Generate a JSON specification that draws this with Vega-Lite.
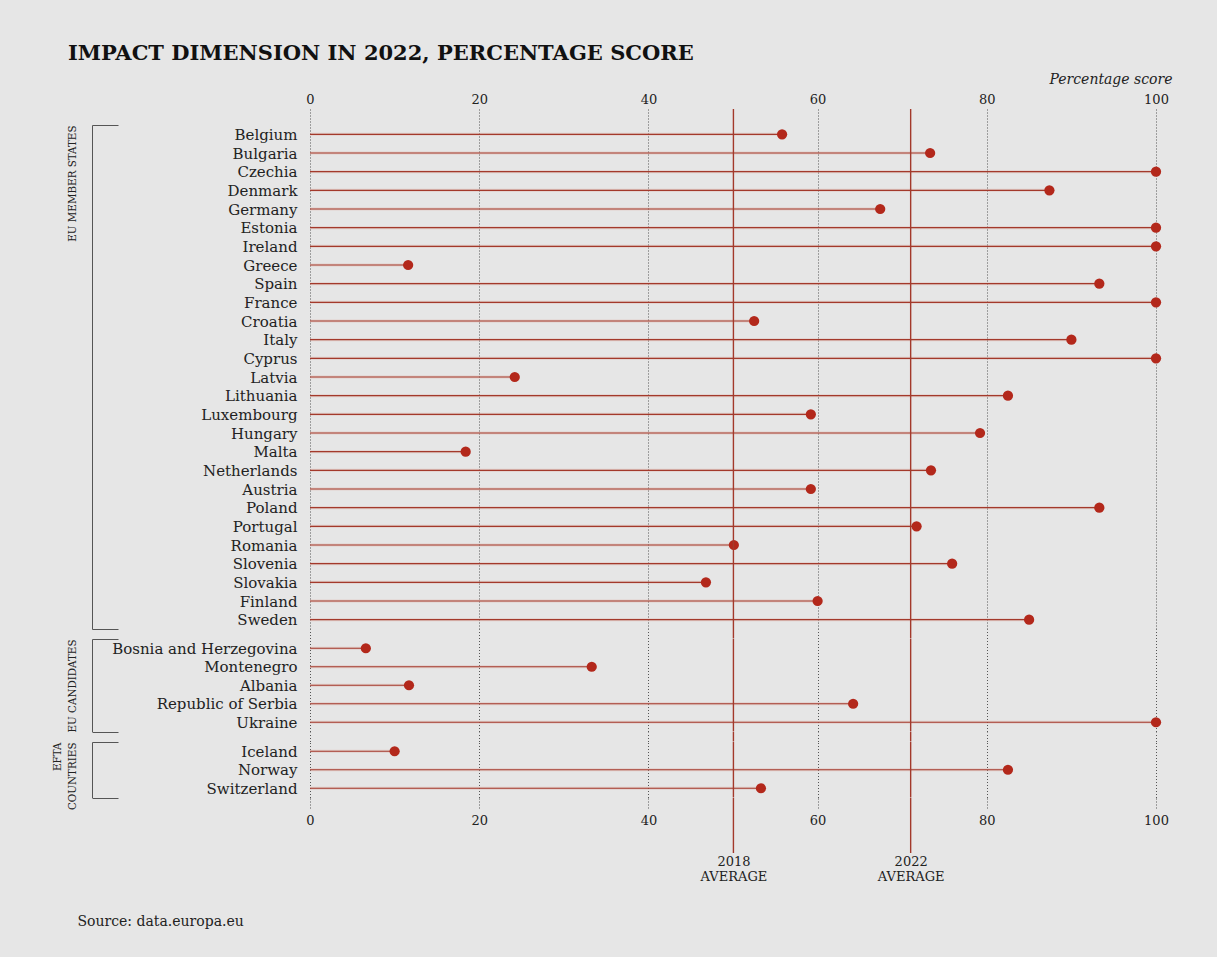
{
  "$schema": "https://vega.github.io/schema/vega-lite/v6.json",
  "background": "#e6e6e6",
  "padding": {"left": 51, "top": 43, "right": 45, "bottom": 28},
  "title": {"text": "IMPACT DIMENSION IN 2022, PERCENTAGE SCORE", "anchor": "start", "frame": "bounds", "font": "DejaVu Serif", "fontSize": 21, "fontWeight": "bold", "color": "#111", "dx": 17, "offset": 8},
  "config": {"view": {"stroke": null}},
  "datasets": {
    "countries": [
      {"group": "EU member states", "country": "Belgium", "score": 55.8},
      {"group": "EU member states", "country": "Bulgaria", "score": 73.3},
      {"group": "EU member states", "country": "Czechia", "score": 100},
      {"group": "EU member states", "country": "Denmark", "score": 87.4},
      {"group": "EU member states", "country": "Germany", "score": 67.4},
      {"group": "EU member states", "country": "Estonia", "score": 100},
      {"group": "EU member states", "country": "Ireland", "score": 100},
      {"group": "EU member states", "country": "Greece", "score": 11.6},
      {"group": "EU member states", "country": "Spain", "score": 93.3},
      {"group": "EU member states", "country": "France", "score": 100},
      {"group": "EU member states", "country": "Croatia", "score": 52.5},
      {"group": "EU member states", "country": "Italy", "score": 90.0},
      {"group": "EU member states", "country": "Cyprus", "score": 100},
      {"group": "EU member states", "country": "Latvia", "score": 24.2},
      {"group": "EU member states", "country": "Lithuania", "score": 82.5},
      {"group": "EU member states", "country": "Luxembourg", "score": 59.2},
      {"group": "EU member states", "country": "Hungary", "score": 79.2},
      {"group": "EU member states", "country": "Malta", "score": 18.4},
      {"group": "EU member states", "country": "Netherlands", "score": 73.4},
      {"group": "EU member states", "country": "Austria", "score": 59.2},
      {"group": "EU member states", "country": "Poland", "score": 93.3},
      {"group": "EU member states", "country": "Portugal", "score": 71.7},
      {"group": "EU member states", "country": "Romania", "score": 50.1},
      {"group": "EU member states", "country": "Slovenia", "score": 75.9},
      {"group": "EU member states", "country": "Slovakia", "score": 46.8},
      {"group": "EU member states", "country": "Finland", "score": 60.0},
      {"group": "EU member states", "country": "Sweden", "score": 85.0},
      {"group": "EU candidates", "country": "Bosnia and Herzegovina", "score": 6.6},
      {"group": "EU candidates", "country": "Montenegro", "score": 33.3},
      {"group": "EU candidates", "country": "Albania", "score": 11.7},
      {"group": "EU candidates", "country": "Republic of Serbia", "score": 64.2},
      {"group": "EU candidates", "country": "Ukraine", "score": 100},
      {"group": "EFTA countries", "country": "Iceland", "score": 10.0},
      {"group": "EFTA countries", "country": "Norway", "score": 82.5},
      {"group": "EFTA countries", "country": "Switzerland", "score": 53.3}
    ],
    "averages": [
      {"label": "2018 AVERAGE", "avg": 50.05},
      {"label": "2022 AVERAGE", "avg": 71.0}
    ]
  },
  "spacing": 0,
  "bounds": "flush",
  "vconcat": [
    {
      "width": 846, "height": 16,
      "data": {"name": "averages"},
      "mark": {"type": "rule", "color": "#a3392b", "strokeWidth": 1.4},
      "encoding": {
        "x": {"field": "avg", "type": "quantitative", "scale": {"domain": [0, 100], "nice": false, "zero": false},
          "axis": {"orient": "top", "values": [0, 20, 40, 60, 80, 100], "labels": true, "labelFlush": false, "ticks": false, "domain": false, "grid": true, "gridDash": [1, 2], "gridColor": "#555", "gridWidth": 1, "labelPadding": 3, "labelFont": "DejaVu Serif", "labelFontSize": 13, "labelColor": "#222",
            "title": "Percentage score", "titleFont": "DejaVu Serif", "titleFontStyle": "italic", "titleFontWeight": "normal", "titleFontSize": 14, "titleColor": "#222", "titleAlign": "right", "titleAnchor": "end", "titleX": 862, "titleY": -30, "titleBaseline": "middle"}}
      }
    },
    {
      "width": 846, "height": 504,
      "data": {"name": "countries"},
      "transform": [{"filter": "datum.group === 'EU member states'"}],
      "layer": [
        {
          "mark": {"type": "rule", "color": "#dba79f", "strokeWidth": 3, "opacity": 0.35},
          "encoding": {
            "x": {"field": "score", "type": "quantitative", "title": null, "scale": {"domain": [0, 100], "nice": false, "zero": false},
              "axis": {"values": [0, 20, 40, 60, 80, 100], "labels": false, "ticks": false, "domain": false, "grid": true, "gridDash": [1, 2], "gridColor": "#555", "gridWidth": 1, "title": null}},
            "x2": {"datum": 0},
            "y": {"field": "country", "type": "nominal", "sort": null, "scale": {"type": "band", "paddingInner": 0, "paddingOuter": 0}}
          }
        },
        {
          "mark": {"type": "rule", "color": "#a3392b", "strokeWidth": 1.2},
          "encoding": {
            "x": {"field": "score", "type": "quantitative"},
            "x2": {"datum": 0},
            "y": {"field": "country", "type": "nominal", "sort": null, "scale": {"type": "band", "paddingInner": 0, "paddingOuter": 0},
              "axis": {"orient": "left", "offset": 218, "domain": true, "domainColor": "#555", "domainWidth": 1, "ticks": true, "tickBand": "extent", "tickSize": -26, "tickColor": "#555", "tickWidth": 1,
                "tickOpacity": {"condition": {"test": "datum.index === 1 || datum.index < 0", "value": 1}, "value": 0},
                "grid": false, "labels": true, "labelLimit": 300, "labelPadding": -179, "labelAlign": "right", "labelFont": "DejaVu Serif", "labelFontSize": 15, "labelColor": "#222",
                "title": "EU MEMBER STATES", "titleFont": "DejaVu Serif Condensed", "titleFontSize": 11.5, "titleFontWeight": "normal", "titleColor": "#222", "titleAngle": 270, "titleAlign": "right", "titleBaseline": "middle", "titleX": -20, "titleY": 0}}
          }
        },
        {
          "mark": {"type": "point", "filled": true, "color": "#b3281b", "size": 105, "opacity": 1},
          "encoding": {
            "x": {"field": "score", "type": "quantitative"},
            "y": {"field": "country", "type": "nominal", "sort": null, "scale": {"type": "band", "paddingInner": 0, "paddingOuter": 0}}
          }
        },
        {
          "data": {"name": "averages"},
          "mark": {"type": "rule", "color": "#a3392b", "strokeWidth": 1.4},
          "encoding": {"x": {"field": "avg", "type": "quantitative"}}
        }
      ]
    },
    {
      "width": 846, "height": 9.5,
      "data": {"name": "averages"},
      "mark": {"type": "rule", "color": "#a3392b", "strokeWidth": 1.4},
      "encoding": {
        "x": {"field": "avg", "type": "quantitative", "scale": {"domain": [0, 100], "nice": false, "zero": false},
          "axis": {"values": [0, 20, 40, 60, 80, 100], "labels": false, "ticks": false, "domain": false, "grid": true, "gridDash": [1, 2], "gridColor": "#555", "gridWidth": 1, "title": null}}
      }
    },
    {
      "width": 846, "height": 92.5,
      "data": {"name": "countries"},
      "transform": [{"filter": "datum.group === 'EU candidates'"}],
      "layer": [
        {
          "mark": {"type": "rule", "color": "#dba79f", "strokeWidth": 3, "opacity": 0.35},
          "encoding": {
            "x": {"field": "score", "type": "quantitative", "title": null, "scale": {"domain": [0, 100], "nice": false, "zero": false},
              "axis": {"values": [0, 20, 40, 60, 80, 100], "labels": false, "ticks": false, "domain": false, "grid": true, "gridDash": [1, 2], "gridColor": "#555", "gridWidth": 1, "title": null}},
            "x2": {"datum": 0},
            "y": {"field": "country", "type": "nominal", "sort": null, "scale": {"type": "band", "paddingInner": 0, "paddingOuter": 0}}
          }
        },
        {
          "mark": {"type": "rule", "color": "#a3392b", "strokeWidth": 1.2},
          "encoding": {
            "x": {"field": "score", "type": "quantitative"},
            "x2": {"datum": 0},
            "y": {"field": "country", "type": "nominal", "sort": null, "scale": {"type": "band", "paddingInner": 0, "paddingOuter": 0},
              "axis": {"orient": "left", "offset": 218, "domain": true, "domainColor": "#555", "domainWidth": 1, "ticks": true, "tickBand": "extent", "tickSize": -26, "tickColor": "#555", "tickWidth": 1,
                "tickOpacity": {"condition": {"test": "datum.index === 1 || datum.index < 0", "value": 1}, "value": 0},
                "grid": false, "labels": true, "labelLimit": 300, "labelPadding": -179, "labelAlign": "right", "labelFont": "DejaVu Serif", "labelFontSize": 15, "labelColor": "#222",
                "title": "EU CANDIDATES", "titleFont": "DejaVu Serif Condensed", "titleFontSize": 11.5, "titleFontWeight": "normal", "titleColor": "#222", "titleAngle": 270, "titleAlign": "right", "titleBaseline": "middle", "titleX": -20, "titleY": 0}}
          }
        },
        {
          "mark": {"type": "point", "filled": true, "color": "#b3281b", "size": 105, "opacity": 1},
          "encoding": {
            "x": {"field": "score", "type": "quantitative"},
            "y": {"field": "country", "type": "nominal", "sort": null, "scale": {"type": "band", "paddingInner": 0, "paddingOuter": 0}}
          }
        },
        {
          "data": {"name": "averages"},
          "mark": {"type": "rule", "color": "#a3392b", "strokeWidth": 1.4},
          "encoding": {"x": {"field": "avg", "type": "quantitative"}}
        }
      ]
    },
    {
      "width": 846, "height": 9.5,
      "data": {"name": "averages"},
      "mark": {"type": "rule", "color": "#a3392b", "strokeWidth": 1.4},
      "encoding": {
        "x": {"field": "avg", "type": "quantitative", "scale": {"domain": [0, 100], "nice": false, "zero": false},
          "axis": {"values": [0, 20, 40, 60, 80, 100], "labels": false, "ticks": false, "domain": false, "grid": true, "gridDash": [1, 2], "gridColor": "#555", "gridWidth": 1, "title": null}}
      }
    },
    {
      "width": 846, "height": 55.5,
      "data": {"name": "countries"},
      "transform": [{"filter": "datum.group === 'EFTA countries'"}],
      "layer": [
        {
          "mark": {"type": "rule", "color": "#dba79f", "strokeWidth": 3, "opacity": 0.35},
          "encoding": {
            "x": {"field": "score", "type": "quantitative", "title": null, "scale": {"domain": [0, 100], "nice": false, "zero": false},
              "axis": {"values": [0, 20, 40, 60, 80, 100], "labels": false, "ticks": false, "domain": false, "grid": true, "gridDash": [1, 2], "gridColor": "#555", "gridWidth": 1, "title": null}},
            "x2": {"datum": 0},
            "y": {"field": "country", "type": "nominal", "sort": null, "scale": {"type": "band", "paddingInner": 0, "paddingOuter": 0}}
          }
        },
        {
          "mark": {"type": "rule", "color": "#a3392b", "strokeWidth": 1.2},
          "encoding": {
            "x": {"field": "score", "type": "quantitative"},
            "x2": {"datum": 0},
            "y": {"field": "country", "type": "nominal", "sort": null, "scale": {"type": "band", "paddingInner": 0, "paddingOuter": 0},
              "axis": {"orient": "left", "offset": 218, "domain": true, "domainColor": "#555", "domainWidth": 1, "ticks": true, "tickBand": "extent", "tickSize": -26, "tickColor": "#555", "tickWidth": 1,
                "tickOpacity": {"condition": {"test": "datum.index === 1 || datum.index < 0", "value": 1}, "value": 0},
                "grid": false, "labels": true, "labelLimit": 300, "labelPadding": -179, "labelAlign": "right", "labelFont": "DejaVu Serif", "labelFontSize": 15, "labelColor": "#222",
                "title": ["EFTA", "COUNTRIES"], "titleFont": "DejaVu Serif Condensed", "titleFontSize": 11.5, "titleFontWeight": "normal", "titleColor": "#222", "titleAngle": 270, "titleAlign": "right", "titleBaseline": "middle", "titleLineHeight": 15, "titleX": -35, "titleY": 0}}
          }
        },
        {
          "mark": {"type": "point", "filled": true, "color": "#b3281b", "size": 105, "opacity": 1},
          "encoding": {
            "x": {"field": "score", "type": "quantitative"},
            "y": {"field": "country", "type": "nominal", "sort": null, "scale": {"type": "band", "paddingInner": 0, "paddingOuter": 0}}
          }
        },
        {
          "data": {"name": "averages"},
          "mark": {"type": "rule", "color": "#a3392b", "strokeWidth": 1.4},
          "encoding": {"x": {"field": "avg", "type": "quantitative"}}
        }
      ]
    },
    {
      "width": 846, "height": 55,
      "data": {"name": "averages"},
      "mark": {"type": "rule", "color": "#a3392b", "strokeWidth": 1.4},
      "encoding": {
        "x": {"field": "avg", "type": "quantitative", "scale": {"domain": [0, 100], "nice": false, "zero": false},
          "axis": {"orient": "bottom", "offset": -55, "values": [0, 20, 40, 50.05, 60, 71, 80, 100], "labels": true, "labelFlush": false, "labelOverlap": false,
            "labelExpr": "datum.value === 50.05 ? ['\u00a0', '\u00a0', '\u00a0', '\u00a0', '\u00a0', '\u00a0', '\u00a0', '2018', 'AVERAGE'] : (datum.value === 71 ? ['\u00a0', '\u00a0', '\u00a0', '\u00a0', '\u00a0', '\u00a0', '\u00a0', '2022', 'AVERAGE'] : datum.label)",
            "labelLineHeight": 15, "ticks": true, "tickSize": 10, "tickDash": [1, 2], "tickColor": "#555",
            "tickOpacity": {"condition": {"test": "datum.value % 20 !== 0", "value": 0}, "value": 1},
            "domain": false, "grid": false,
            "labelPadding": {"condition": {"test": "datum.value % 20 !== 0", "value": 32}, "value": 6},
            "labelFont": "DejaVu Serif", "labelFontSize": 13, "labelColor": "#222",
            "title": "Source: data.europa.eu", "titleFont": "DejaVu Serif", "titleFontWeight": "normal", "titleFontSize": 14, "titleColor": "#222", "titleAlign": "left", "titleAnchor": "start", "titleX": -233, "titleY": 123, "titleBaseline": "middle"}}
      }
    }
  ]
}
